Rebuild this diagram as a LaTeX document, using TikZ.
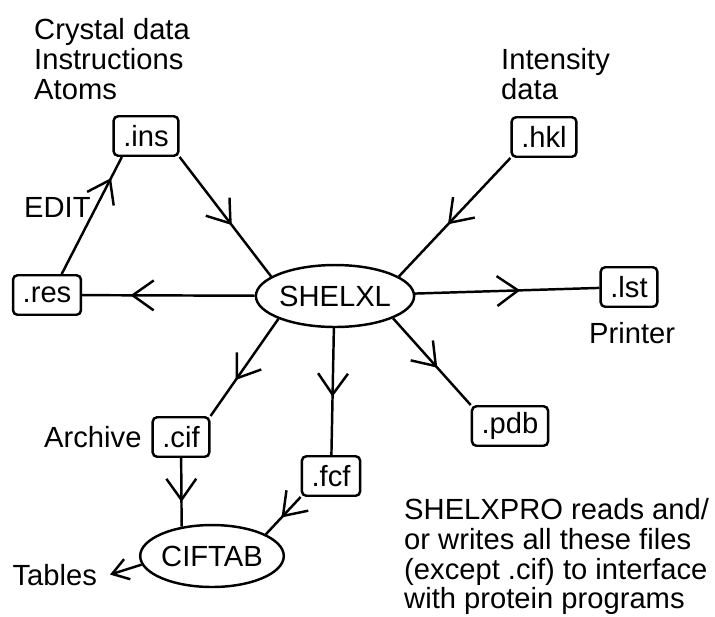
\documentclass[tikz,border=0pt]{standalone}
\usepackage{fontspec}
\setmainfont{Liberation Sans}
\usetikzlibrary{shapes.geometric,arrows.meta,decorations.markings}

\tikzstyle{fbox}=[draw, rounded corners=2.5pt, minimum height=0.79cm, inner xsep=5.5pt, inner ysep=0pt]
\tikzstyle{prog}=[ellipse, draw, inner sep=0pt, minimum height=1.24cm]
\tikzstyle{lbl}=[inner sep=0pt, align=left]
\tikzset{flow/.style={postaction={decorate}, decoration={markings,
  mark=at position #1 with {\arrow{Straight Barb[length=12pt,width=17pt]}}}},
  flow/.default=0.57}

\begin{document}
\begin{tikzpicture}[x=0.02cm, y=-0.02cm, line width=1.4pt,
  font=\fontsize{16.6pt}{17pt}\selectfont]
\useasboundingbox (0,0) rectangle (715,616);

% programs
\node[prog, minimum width=3cm] (shelxl) at (335,296) {SHELXL};
\node[prog, minimum width=2.8cm] (ciftab) at (212,556) {CIFTAB};

% files
\node[fbox] (ins) at (146,136) {.ins};
\node[fbox] (res) at (47,295) {.res};
\node[fbox] (hkl) at (544,137) {.hkl};
\node[fbox] (lst) at (629,287) {.lst};
\node[fbox] (pdb) at (510,426) {.pdb};
\node[fbox] (cif) at (181,437) {.cif};
\node[fbox] (fcf) at (331,476) {.fcf};

% labels
\node[lbl, anchor=north west] (crys) at (33,17) {Crystal data\\Instructions\\Atoms};
\node[lbl, anchor=north west] (intens) at (500,47) {Intensity\\data};
\node[lbl, anchor=base west] (edit) at (23,217) {EDIT};
\node[lbl, anchor=base west] (printer) at (588,343) {Printer};
\node[lbl, anchor=base west] (archive) at (43,447) {Archive};
\node[lbl, anchor=base east, inner xsep=6.8pt] (tables) at (110,585) {Tables};
\node[lbl, anchor=north west] (note) at (403,497) {SHELXPRO reads and/\\or writes all these files\\(except .cif) to interface\\with protein programs};

% connections
\draw[flow] (ins.south east) -- (shelxl.163);
\draw[flow=0.82] (res.55) -- (ins.221);
\draw[flow=0.72] (shelxl) -- (res);
\draw[flow=0.56] (hkl.south west) -- (shelxl.17);
\draw[flow] (shelxl) -- (lst);
\draw[flow] (shelxl.339) -- (pdb.north west);
\draw[flow=0.63] (shelxl.202) -- (cif.north east);
\draw[flow=0.54] (shelxl.268) -- (fcf);
\draw[flow=0.64] (cif) -- (ciftab.136);
\draw[flow=0.55] (fcf.south west) -- (ciftab.22);
\draw[-{Straight Barb[length=9pt,width=12pt]}] (ciftab.187) -- (tables.east);

\end{tikzpicture}
\end{document}
